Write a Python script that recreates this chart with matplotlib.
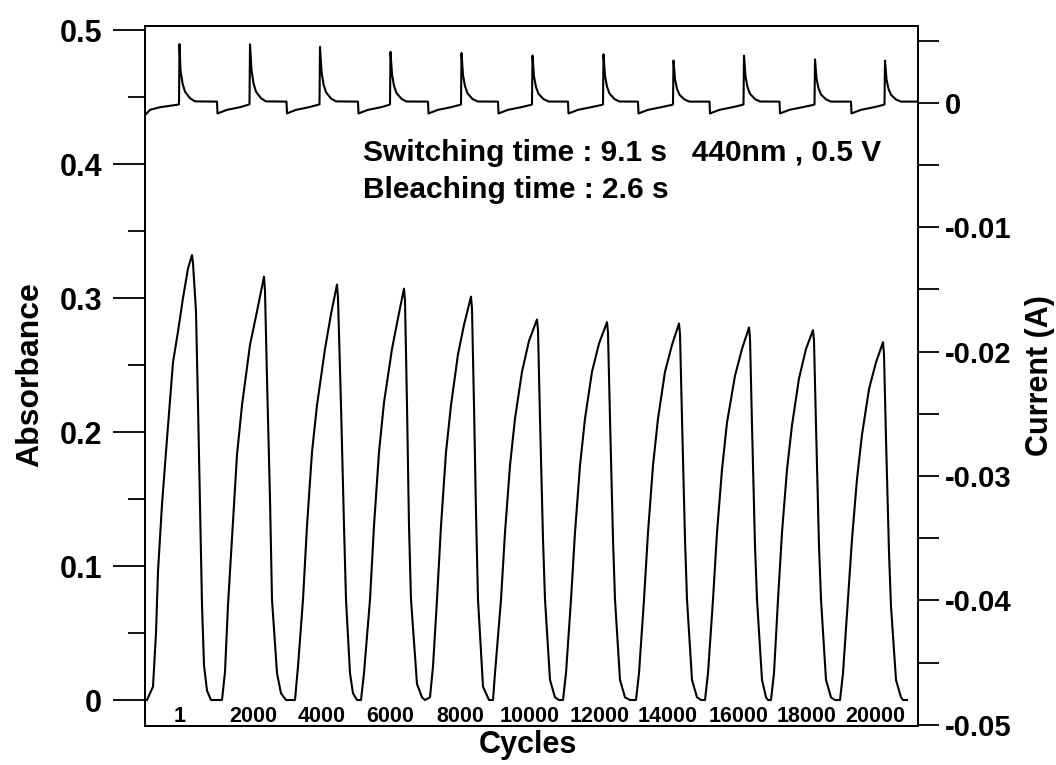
import matplotlib
matplotlib.use("Agg")
import matplotlib.pyplot as plt
from matplotlib.ticker import MultipleLocator

plt.rcParams['font.family'] = ['Liberation Sans', 'DejaVu Sans']
plt.rcParams['font.weight'] = 'bold'
plt.rcParams['axes.unicode_minus'] = False

# absorbance trace at 440 nm (time in s)
abs_time = [
    0.4, 1.6, 2.2, 2.6, 3.4, 4.4, 5.6, 6.6, 7.6, 8.6, 9.4, 9.6, 10.2, 10.6, 11.0, 11.4, 11.8, 12.4, 13.2, 15.4,
    16.0, 16.6, 17.4, 18.4, 19.4, 21.0, 22.4, 23.8, 24.0, 24.4, 25.0, 25.4, 26.4, 27.2, 28.2, 30.0,
    30.6, 31.6, 32.4, 33.4, 34.4, 36.0, 37.2, 38.4, 38.6, 39.2, 39.8, 40.2, 41.0, 41.6, 42.4, 43.2,
    43.8, 45.0, 45.8, 46.8, 47.8, 49.4, 50.6, 51.8, 52.0, 52.4, 52.8, 53.2, 54.4, 55.4, 56.0, 57.0,
    57.6, 58.4, 59.2, 60.2, 61.2, 62.6, 63.8, 65.2, 65.4, 65.8, 66.2, 66.6, 67.6, 68.8, 69.6,
    70.0, 71.2, 72.0, 73.0, 74.0, 75.4, 76.8, 78.4, 78.6, 79.0, 79.6, 80.0, 81.0, 82.0, 82.8, 83.6,
    84.2, 85.2, 86.0, 87.0, 88.0, 89.4, 90.8, 92.4, 92.6, 93.0, 93.6, 94.0, 95.0, 96.0, 97.0, 98.2,
    98.8, 99.8, 100.6, 101.6, 102.6, 104.0, 105.4, 106.8, 107.0, 107.4, 108.0, 108.4, 109.4, 110.4, 111.2, 112.0,
    112.6, 113.6, 114.4, 115.4, 116.4, 118.0, 119.4, 120.8, 121.0, 121.4, 122.0, 122.4, 123.4, 124.2, 124.6, 125.2,
    125.8, 126.6, 127.4, 128.4, 129.4, 130.8, 132.2, 133.6, 133.8, 134.2, 134.8, 135.2, 136.2, 137.2, 138.0, 139.0,
    139.6, 140.6, 141.4, 142.4, 143.4, 144.8, 146.2, 147.6, 147.8, 148.2, 148.8, 149.2, 150.2, 151.2, 151.6, 152.4,
]
absorbance = [
    0.000, 0.010, 0.050, 0.096, 0.146, 0.195, 0.252, 0.275, 0.300, 0.322, 0.332, 0.326, 0.290, 0.220, 0.146, 0.071, 0.026, 0.007, 0.000, 0.000,
    0.021, 0.071, 0.121, 0.183, 0.220, 0.265, 0.290, 0.316, 0.305, 0.240, 0.150, 0.075, 0.020, 0.005, 0.000, 0.000,
    0.025, 0.075, 0.130, 0.185, 0.220, 0.262, 0.288, 0.310, 0.300, 0.220, 0.130, 0.075, 0.020, 0.005, 0.000, 0.000,
    0.020, 0.075, 0.130, 0.185, 0.222, 0.262, 0.285, 0.307, 0.298, 0.220, 0.130, 0.075, 0.012, 0.002, 0.000, 0.002,
    0.025, 0.075, 0.130, 0.185, 0.220, 0.258, 0.280, 0.301, 0.292, 0.220, 0.140, 0.075, 0.010, 0.000, 0.000,
    0.020, 0.075, 0.125, 0.175, 0.210, 0.245, 0.268, 0.284, 0.276, 0.210, 0.120, 0.075, 0.015, 0.002, 0.000, 0.000,
    0.020, 0.075, 0.125, 0.175, 0.210, 0.245, 0.266, 0.282, 0.274, 0.210, 0.120, 0.075, 0.015, 0.002, 0.000, 0.000,
    0.020, 0.075, 0.125, 0.175, 0.210, 0.245, 0.265, 0.281, 0.273, 0.210, 0.120, 0.075, 0.015, 0.002, 0.000, 0.000,
    0.020, 0.075, 0.125, 0.172, 0.207, 0.242, 0.262, 0.278, 0.270, 0.205, 0.115, 0.075, 0.015, 0.002, 0.000, 0.000,
    0.020, 0.075, 0.125, 0.172, 0.205, 0.240, 0.262, 0.276, 0.268, 0.205, 0.115, 0.075, 0.015, 0.002, 0.000, 0.000,
    0.020, 0.075, 0.120, 0.165, 0.198, 0.232, 0.252, 0.267, 0.258, 0.195, 0.110, 0.070, 0.015, 0.002, 0.000, 0.000,
]

# current trace (A), same time base
cur_time = [
    0.0, 1.0, 3.0, 6.3, 6.8, 6.9, 7.1, 7.5, 8.0, 9.0, 10.0, 14.4, 14.5,
    16.4, 19.0, 20.6, 20.9, 21.0, 21.3, 21.7, 22.2, 23.2, 24.2, 28.3, 28.4,
    30.2, 32.8, 34.6, 34.9, 35.0, 35.3, 35.7, 36.2, 37.2, 38.2, 42.6, 42.7,
    44.6, 47.2, 48.8, 49.0, 49.1, 49.4, 49.8, 50.3, 51.3, 52.3, 56.6, 56.7,
    58.6, 61.2, 63.0, 63.2, 63.3, 63.6, 64.0, 64.5, 65.5, 66.5, 70.6, 70.7,
    72.6, 75.2, 77.2, 77.4, 77.5, 77.8, 78.2, 78.7, 79.7, 80.7, 84.6, 84.7,
    86.6, 89.2, 91.4, 91.6, 91.7, 92.0, 92.4, 92.9, 93.9, 94.9, 98.6, 98.7,
    100.6, 103.2, 105.4, 105.6, 105.7, 106.0, 106.4, 106.9, 107.9, 108.9, 112.9, 113.0,
    114.9, 117.5, 119.5, 119.7, 119.8, 120.1, 120.5, 121.0, 122.0, 123.0, 126.9, 127.0,
    128.9, 131.5, 133.7, 133.9, 134.0, 134.3, 134.7, 135.2, 136.2, 137.2, 141.2, 141.3,
    143.2, 145.8, 147.7, 147.9, 148.0, 148.3, 148.7, 149.2, 150.2, 151.2, 154.6,
]
current = [
    -0.00100, -0.00056, -0.00035, -0.00016, -0.00012, 0.00472, 0.00264, 0.00157, 0.00090, 0.00037, 0.00012, 0.00010, -0.00085,
    -0.00056, -0.00035, -0.00016, -0.00012, 0.00470, 0.00264, 0.00157, 0.00090, 0.00037, 0.00012, 0.00010, -0.00085,
    -0.00056, -0.00035, -0.00016, -0.00012, 0.00450, 0.00252, 0.00150, 0.00086, 0.00035, 0.00012, 0.00010, -0.00085,
    -0.00056, -0.00035, -0.00016, -0.00012, 0.00410, 0.00230, 0.00137, 0.00079, 0.00032, 0.00011, 0.00010, -0.00085,
    -0.00056, -0.00035, -0.00016, -0.00012, 0.00400, 0.00224, 0.00134, 0.00077, 0.00031, 0.00011, 0.00010, -0.00085,
    -0.00056, -0.00035, -0.00016, -0.00012, 0.00380, 0.00213, 0.00127, 0.00073, 0.00030, 0.00011, 0.00010, -0.00085,
    -0.00056, -0.00035, -0.00016, -0.00012, 0.00390, 0.00218, 0.00130, 0.00075, 0.00030, 0.00011, 0.00010, -0.00085,
    -0.00056, -0.00035, -0.00016, -0.00012, 0.00340, 0.00190, 0.00113, 0.00065, 0.00027, 0.00010, 0.00010, -0.00085,
    -0.00056, -0.00035, -0.00016, -0.00012, 0.00380, 0.00213, 0.00127, 0.00073, 0.00030, 0.00011, 0.00010, -0.00085,
    -0.00056, -0.00035, -0.00016, -0.00012, 0.00350, 0.00196, 0.00117, 0.00067, 0.00028, 0.00010, 0.00010, -0.00085,
    -0.00056, -0.00035, -0.00016, -0.00012, 0.00340, 0.00190, 0.00113, 0.00065, 0.00027, 0.00010, 0.00010,
]

cycle_labels = ["1", "2000", "4000", "6000", "8000", "10000", "12000",
                "14000", "16000", "18000", "20000"]
cycle_label_x = [7.0, 21.6, 35.4, 49.0, 63.0, 77.0, 91.0, 104.6, 118.8, 132.4, 146.0]

left_ticks = [0, 0.1, 0.2, 0.3, 0.4, 0.5]
left_ticklabels = ["0", "0.1", "0.2", "0.3", "0.4", "0.5"]
right_ticks = [-0.05, -0.04, -0.03, -0.02, -0.01, 0]
right_ticklabels = ["-0.05", "-0.04", "-0.03", "-0.02", "-0.01", "0"]

fig = plt.figure(figsize=(10.56, 7.65), dpi=100)
ax = fig.add_axes([145 / 1056, 1 - 726 / 765, 773 / 1056, 700 / 765])
ax2 = ax.twinx()

ax.plot(abs_time, absorbance, color='black', lw=1.5)
ax2.plot(cur_time, current, color='black', lw=1.5)

ax.set_xlim(0, 154.6)
ax.set_ylim(-0.0194, 0.503)
ax2.set_ylim(-0.0501, 0.00618)

ax.set_xticks([])
ax.set_yticks(left_ticks)
ax.set_yticklabels(left_ticklabels)
ax.yaxis.set_minor_locator(MultipleLocator(0.05))
ax.tick_params(axis='y', which='major', direction='out', length=23, width=1.3,
               labelsize=22, pad=8)
ax.tick_params(axis='y', which='minor', direction='out', length=12, width=1.3)

ax2.set_yticks(right_ticks)
ax2.set_yticklabels(right_ticklabels)
ax2.yaxis.set_minor_locator(MultipleLocator(0.005))
ax2.tick_params(axis='y', which='both', direction='out', length=15, width=1.3,
                labelsize=21, pad=4)

for a in (ax, ax2):
    for s in a.spines.values():
        s.set_linewidth(1.3)
    for lab in a.get_yticklabels():
        lab.set_fontweight('bold')

for lab, x in zip(cycle_labels, cycle_label_x):
    ax.text(x, -0.012, lab, ha='center', va='center', fontsize=15.5, fontweight='bold')

ax.text(0.282, 0.819, "Switching time : 9.1 s   440nm , 0.5 V", transform=ax.transAxes,
        ha='left', va='center', fontsize=21.5, fontweight='bold')
ax.text(0.282, 0.766, "Bleaching time : 2.6 s", transform=ax.transAxes,
        ha='left', va='center', fontsize=21.5, fontweight='bold')

fig.text(30 / 1056, 1 - 375 / 765, "Absorbance", rotation=90, ha='center', va='center',
         fontsize=23, fontweight='bold')
fig.text(528 / 1056, 1 - 745 / 765, "Cycles", ha='center', va='center',
         fontsize=22, fontweight='bold')
fig.text(1040 / 1056, 1 - 376 / 765, "Current (A)", rotation=90, ha='center', va='center',
         fontsize=22, fontweight='bold')

fig.savefig("out.png", dpi=100)
